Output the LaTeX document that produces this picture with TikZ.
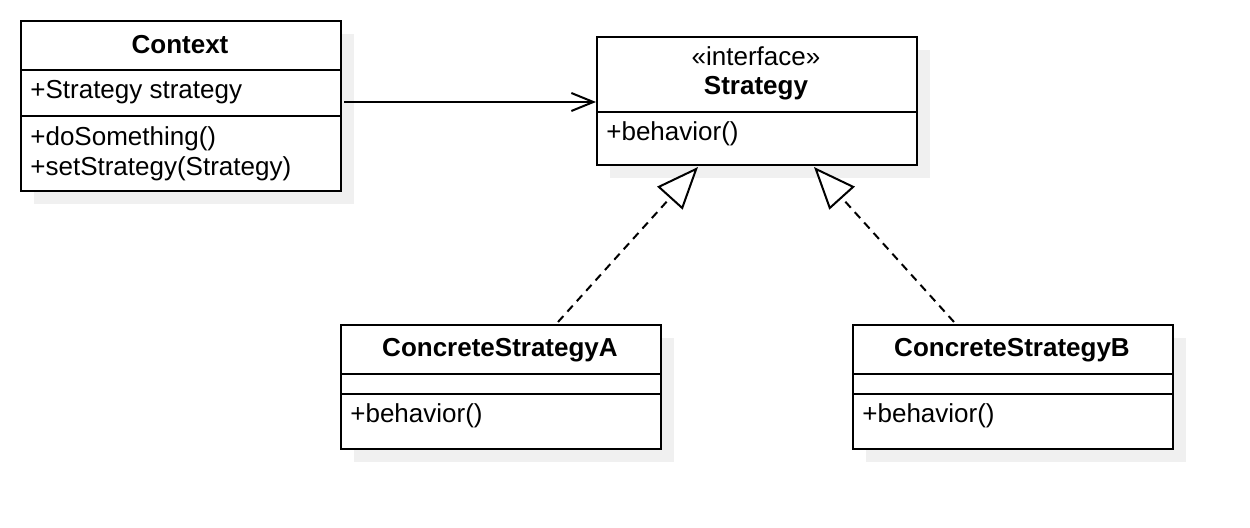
\documentclass[tikz,border=0pt]{standalone}
\usepackage{fontspec}
\setmainfont{Liberation Sans}
\usetikzlibrary{arrows.meta}
\begin{document}
\begin{tikzpicture}[x=0.5pt,y=-0.5pt,
  classbox/.style={draw,line width=1pt,fill=white,anchor=north west,inner sep=0pt},
  shadowbox/.style={fill=black!6,draw=none,anchor=north west,inner sep=0pt},
  divider/.style={line width=1pt},
  titletext/.style={font=\bfseries\fontsize{13}{15}\selectfont,anchor=base,inner sep=0pt},
  stereo/.style={font=\fontsize{13}{15}\selectfont,anchor=base,inner sep=0pt},
  member/.style={font=\fontsize{13}{15}\selectfont,anchor=base west,inner sep=0pt},
  assoc/.style={line width=1pt,-{Straight Barb[length=11pt,width=9pt,line width=1pt]}},
  realize/.style={line width=1pt,dash pattern=on 4pt off 3pt,-{Triangle[open,length=21pt,width=17pt,line width=1pt,fill=white]}}
]
\useasboundingbox (0,0) rectangle (1250,528);
% shadows
\node[shadowbox,minimum width=160pt,minimum height=85pt] (ctxS) at (34,34) {};
\node[shadowbox,minimum width=160pt,minimum height=64pt] (strS) at (610,50) {};
\node[shadowbox,minimum width=160pt,minimum height=62pt] (csaS) at (354,338) {};
\node[shadowbox,minimum width=160pt,minimum height=62pt] (csbS) at (866,338) {};
% Context
\node[classbox,minimum width=160pt,minimum height=85pt] (ctx) at (20,20) {};
\draw[divider] (20,70) -- (340,70);
\draw[divider] (20,116) -- (340,116);
\node[titletext] (ctxT) at (180,54) {Context};
\node[member] (ctxA) at (30,99) {+Strategy strategy};
\node[member] (ctxM1) at (30,146) {+doSomething()};
\node[member] (ctxM2) at (30,176) {+setStrategy(Strategy)};
% Strategy
\node[classbox,minimum width=160pt,minimum height=64pt] (str) at (596,36) {};
\draw[divider] (596,112) -- (916,112);
\node[stereo] (strI) at (756,66) {«interface»};
\node[titletext] (strT) at (756,95) {Strategy};
\node[member] (strM) at (606,141) {+behavior()};
% ConcreteStrategyA
\node[classbox,minimum width=160pt,minimum height=62pt] (csa) at (340,324) {};
\draw[divider] (340,374) -- (660,374);
\draw[divider] (340,394) -- (660,394);
\node[titletext] (csaT) at (500,357) {ConcreteStrategyA};
\node[member] (csaM) at (350,423) {+behavior()};
% ConcreteStrategyB
\node[classbox,minimum width=160pt,minimum height=62pt] (csb) at (852,324) {};
\draw[divider] (852,374) -- (1172,374);
\draw[divider] (852,394) -- (1172,394);
\node[titletext] (csbT) at (1012,357) {ConcreteStrategyB};
\node[member] (csbM) at (862,423) {+behavior()};
% connectors
\draw[assoc] ([xshift=1pt,yshift=-0.5pt]ctx.east |- str.west) -- ([yshift=-0.5pt]str.west);
\draw[realize] ([xshift=28.5pt,yshift=1pt]csa.north) -- ([xshift=-29.5pt,yshift=-0.5pt]str.south);
\draw[realize] ([xshift=-29.5pt,yshift=1pt]csb.north) -- ([xshift=28.5pt,yshift=-0.5pt]str.south);
\end{tikzpicture}
\end{document}
